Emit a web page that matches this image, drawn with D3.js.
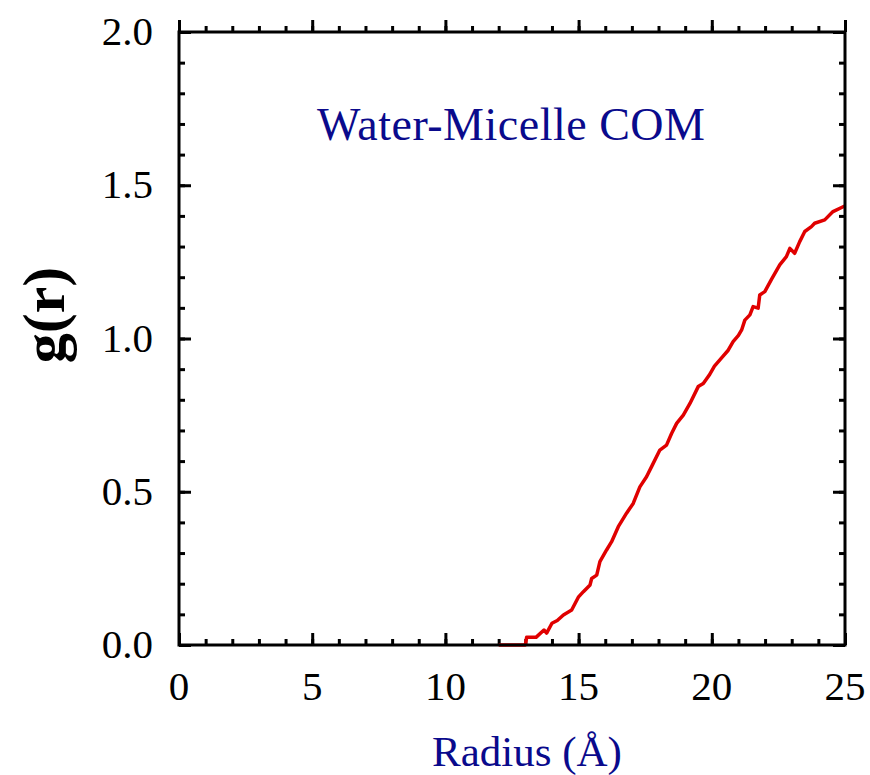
<!DOCTYPE html>
<html>
<head>
<meta charset="utf-8">
<script src="https://cdn.jsdelivr.net/npm/d3@7"></script>
<style>
  body { margin: 0; background: #fff; }
  text { font-family: "Liberation Serif", "DejaVu Serif", serif; }
</style>
</head>
<body>
<div id="chart"></div>
<script>
// g(r)
const radius = [12.0, 13.0, 13.05, 13.4, 13.7, 13.8, 14.0, 14.2, 14.43, 14.74, 14.99, 15.18, 15.43, 15.49, 15.68,
  15.8, 16.05, 16.24, 16.49, 16.8, 17.05, 17.3, 17.55, 17.74, 18.05, 18.3, 18.49, 18.68, 18.93, 19.18, 19.49, 19.68,
  19.9, 20.1, 20.4, 20.6, 20.8, 21.0, 21.12, 21.24, 21.43, 21.55, 21.74, 21.8, 21.99, 22.24, 22.55, 22.8, 22.93,
  23.11, 23.3, 23.49, 23.74, 23.86, 24.24, 24.55, 24.93, 25.0];
const gr = [0.0, 0.0, 0.025, 0.025, 0.049, 0.039, 0.071, 0.08, 0.098, 0.114, 0.156, 0.174, 0.196, 0.217, 0.228,
  0.272, 0.31, 0.337, 0.386, 0.43, 0.462, 0.516, 0.549, 0.582, 0.636, 0.652, 0.69, 0.723, 0.75, 0.788, 0.843, 0.853,
  0.88, 0.91, 0.94, 0.96, 0.99, 1.01, 1.028, 1.06, 1.077, 1.104, 1.099, 1.142, 1.153, 1.193, 1.24, 1.267, 1.294,
  1.278, 1.316, 1.349, 1.365, 1.376, 1.387, 1.414, 1.43, 1.432];
const xTicks = [0, 5, 10, 15, 20, 25];
const yTicks = [0.0, 0.5, 1.0, 1.5, 2.0];

const width = 870, height = 775;
const margin = {top: 32, right: 25, bottom: 130, left: 179};
const w = width - margin.left - margin.right;
const h = height - margin.top - margin.bottom;

const svg = d3.select('#chart').append('svg')
  .attr('width', width)
  .attr('height', height);

const g = svg.append('g')
  .attr('transform', `translate(${margin.left},${margin.top})`);

const x = d3.scaleLinear().domain([0, 25]).range([0, w]);
const y = d3.scaleLinear().domain([0, 2]).range([h, 0]);

const xMinor = d3.range(0, 26, 1);
const yMinor = d3.range(0, 2.01, 0.1);

// inward ticks on all four sides
function ticks(axis, scale, vals, len) {
  return axis(scale).tickValues(vals).tickSize(-len).tickFormat('');
}
const tickStyle = sel => {
  sel.select('.domain').remove();
  sel.selectAll('line').attr('stroke', '#000').attr('stroke-width', 3);
};
g.append('g').attr('transform', `translate(0,${h})`).call(ticks(d3.axisBottom, x, xMinor, 6)).call(tickStyle);
g.append('g').attr('transform', `translate(0,${h})`).call(ticks(d3.axisBottom, x, xTicks, 12)).call(tickStyle);
g.append('g').call(ticks(d3.axisTop, x, xMinor, -6)).call(tickStyle);
g.append('g').call(ticks(d3.axisTop, x, xTicks, -12)).call(tickStyle);
g.append('g').call(ticks(d3.axisLeft, y, yMinor, 6)).call(tickStyle);
g.append('g').call(ticks(d3.axisLeft, y, yTicks, 12)).call(tickStyle);
g.append('g').attr('transform', `translate(${w},0)`).call(ticks(d3.axisRight, y, yMinor, 6)).call(tickStyle);
g.append('g').attr('transform', `translate(${w},0)`).call(ticks(d3.axisRight, y, yTicks, 12)).call(tickStyle);

// tick labels
g.selectAll('.xl').data(xTicks).enter().append('text')
  .attr('x', d => x(d)).attr('y', h + 55)
  .attr('text-anchor', 'middle')
  .style('font-size', '41px')
  .text(d => d);

g.selectAll('.yl').data(yTicks).enter().append('text')
  .attr('x', -26).attr('y', d => y(d) + 13)
  .attr('text-anchor', 'end')
  .style('font-size', '41px')
  .text(d => d.toFixed(1));

// curve
const line = d3.line()
  .x((d, i) => x(radius[i]))
  .y(d => y(d));

g.append('path')
  .datum(gr)
  .attr('fill', 'none')
  .attr('stroke', '#e00000')
  .attr('stroke-width', 3.5)
  .attr('stroke-linejoin', 'round')
  .attr('d', line);

// frame
g.append('rect')
  .attr('width', w).attr('height', h)
  .attr('fill', 'none')
  .attr('stroke', '#000')
  .attr('stroke-width', 3);

// labels
g.append('text')
  .attr('x', 511 - margin.left).attr('y', 108)
  .attr('text-anchor', 'middle')
  .attr('fill', '#0a0a8c')
  .style('font-size', '46px')
  .attr('textLength', 388)
  .text('Water-Micelle COM');

svg.append('text')
  .attr('x', 527).attr('y', 766)
  .attr('text-anchor', 'middle')
  .attr('fill', '#0a0a8c')
  .style('font-size', '43px')
  .text('Radius (Å)');

svg.append('text')
  .attr('transform', 'translate(64,315) rotate(-90)')
  .attr('text-anchor', 'middle')
  .style('font-size', '60px')
  .style('font-weight', 'bold')
  .text('g(r)');
</script>
</body>
</html>
